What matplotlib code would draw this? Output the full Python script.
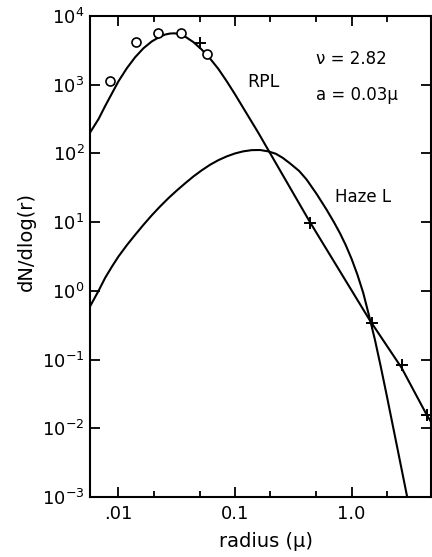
import numpy as np
import matplotlib
matplotlib.use("Agg")
import matplotlib.pyplot as plt
from matplotlib.ticker import (FixedLocator, FixedFormatter, NullLocator,
                               LogFormatterSciNotation)

# RPL size distribution: log10 radius (microns) and log10 dN/dlog r
rpl_logr = [-2.245, -2.171, -2.114, -2.057, -2.0, -1.928, -1.857, -1.786,
            -1.714, -1.643, -1.60, -1.557, -1.52, -1.486, -1.428, -1.357,
            -1.285, -1.214, -1.143, -1.071, -1.0, -0.9, -0.8, -0.715,
            -0.357, 0.157, 0.429, 0.643, 0.69]
rpl_logn = [2.30, 2.50, 2.69, 2.87, 3.05, 3.24, 3.40, 3.53,
            3.63, 3.70, 3.73, 3.745, 3.748, 3.74, 3.70, 3.62,
            3.51, 3.38, 3.23, 3.05, 2.86, 2.58, 2.30, 2.05,
            1.00, -0.43, -1.12, -1.80, -1.93]

# Haze L size distribution
haze_logr = [-2.245, -2.171, -2.114, -2.057, -2.0, -1.928, -1.857, -1.786,
             -1.714, -1.643, -1.572, -1.5, -1.428, -1.357, -1.285, -1.214,
             -1.143, -1.071, -1.0, -0.93, -0.857, -0.786, -0.715, -0.65,
             -0.59, -0.529, -0.45, -0.386, -0.30, -0.214, -0.15, -0.10,
             -0.05, 0.0, 0.05, 0.10, 0.157, 0.20, 0.25, 0.30,
             0.35, 0.40, 0.477, 0.50]
haze_logn = [-0.23, 0.0, 0.19, 0.35, 0.50, 0.665, 0.815, 0.96,
             1.10, 1.228, 1.348, 1.46, 1.565, 1.665, 1.755, 1.835,
             1.902, 1.957, 2.0, 2.03, 2.048, 2.05, 2.03, 1.995,
             1.935, 1.856, 1.745, 1.62, 1.41, 1.18, 0.995, 0.84,
             0.665, 0.465, 0.235, -0.03, -0.41, -0.71, -1.10, -1.51,
             -1.93, -2.35, -3.0, -3.2]

# Measured points
circ_r = [0.00849, 0.01419, 0.0220, 0.0344, 0.0571]
circ_n = [1143, 4140, 5710, 5710, 2770]
plus_r = [0.0501, 0.44, 1.51, 2.69, 4.40]
plus_n = [4010, 9.8, 0.343, 0.083, 0.0156]

x_major = [0.01, 0.1, 1.0]
x_major_labels = [".01", "0.1", "1.0"]
x_minor = [0.02, 0.05, 0.2, 0.5, 2.0]
y_major = [1e-3, 1e-2, 1e-1, 1e0, 1e1, 1e2, 1e3, 1e4]

plt.rcParams["font.family"] = ["DejaVu Sans"]
plt.rcParams["mathtext.default"] = "regular"

fig = plt.figure(figsize=(4.32, 5.57), dpi=100)
ax = fig.add_axes([90 / 432, 60 / 557, 341 / 432, 481 / 557])

ax.plot(10 ** np.asarray(rpl_logr), 10 ** np.asarray(rpl_logn),
        color="black", lw=1.5, solid_joinstyle="round")
ax.plot(10 ** np.asarray(haze_logr), 10 ** np.asarray(haze_logn),
        color="black", lw=1.5, solid_joinstyle="round")
ax.plot(circ_r, circ_n, ls="none", marker="o", ms=6.5, mfc="white",
        mec="black", mew=1.2)
ax.plot(plus_r, plus_n, ls="none", marker="+", ms=8, mec="black", mew=1.4,
        clip_on=False)

ax.set_xscale("log")
ax.set_yscale("log")
ax.set_xlim(0.0057, 4.8)
ax.set_ylim(1e-3, 1e4)

ax.xaxis.set_major_locator(FixedLocator(x_major))
ax.xaxis.set_major_formatter(FixedFormatter(x_major_labels))
ax.xaxis.set_minor_locator(FixedLocator(x_minor))
ax.yaxis.set_major_locator(FixedLocator(y_major))
ax.yaxis.set_major_formatter(LogFormatterSciNotation())
ax.yaxis.set_minor_locator(NullLocator())

ax.tick_params(which="both", direction="in", top=True, right=True,
               width=1.3, labelsize=13, color="black")
ax.tick_params(which="major", length=7)
ax.tick_params(which="minor", length=4)
ax.tick_params(axis="y", pad=4)
ax.tick_params(axis="x", pad=6)

for s in ax.spines.values():
    s.set_linewidth(1.5)

ax.set_xlabel("radius (μ)", fontsize=14)
ax.set_ylabel("dN/dlog(r)", fontsize=14)
ax.xaxis.set_label_coords(0.515, -0.073)
ax.yaxis.set_label_coords(-0.158, 0.532)


def put(txt, xpx, ypx, size=12):
    fig.text(xpx / 432, 1 - ypx / 557, txt, va="center", ha="left",
             fontsize=size)


put("RPL", 247, 82, 12.5)
put("ν = 2.82", 316, 59)
put("a = 0.03μ", 316, 95)
put("Haze L", 335, 197)

fig.savefig("out.png", dpi=100)
